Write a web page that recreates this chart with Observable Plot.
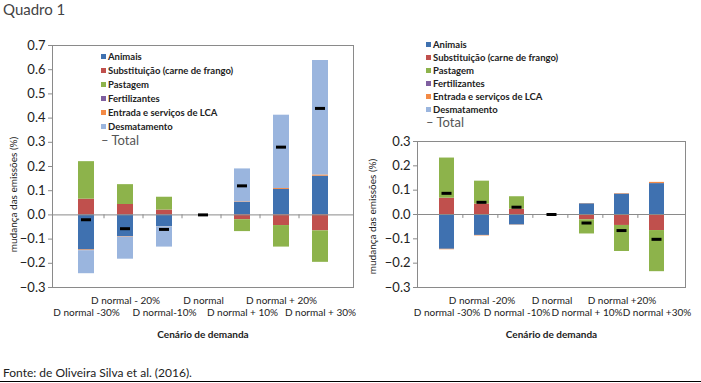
<!DOCTYPE html>
<html>
<head>
<meta charset="utf-8">
<script src="https://cdn.jsdelivr.net/npm/d3@7"></script>
<script src="https://cdn.jsdelivr.net/npm/@observablehq/plot@0.6"></script>
<style>
  html, body { margin: 0; padding: 0; background: #fff; }
  #page { position: relative; width: 701px; height: 383px; overflow: hidden; font-family: Lato, "Open Sans", sans-serif; }
  #title { position: absolute; left: 3px; top: 1px; font-size: 15px; line-height: 16px; color: #444; }
  #footer { position: absolute; left: 3px; top: 366px; font-size: 12px; line-height: 14px; color: #222; }
  #bottomline { position: absolute; left: 0; top: 381px; width: 701px; height: 1px; background: #000; }
  .chart { position: absolute; top: 0; }
  .legend { position: absolute; z-index: 2; }
  .legend .item { position: absolute; left: 0; white-space: nowrap; font-size: 9.5px; line-height: 12px; font-weight: bold; color: #222; }
  .legend .sw { display: inline-block; width: 5px; height: 5px; margin-right: 2px; vertical-align: 1px; }
  .legend .tot { font-weight: normal; font-size: 13px; line-height: 14px; color: #555; }
</style>
</head>
<body>
<div id="page">
  <div id="title">Quadro 1</div>
  <div id="left" class="chart" style="left:0px"></div>
  <div id="right" class="chart" style="left:360px"></div>
  <div id="legL" class="legend" style="left:101px; top:51px"></div>
  <div id="legR" class="legend" style="left:426px; top:39px"></div>
  <div id="footer">Fonte: de Oliveira Silva et al. (2016).</div>
  <div id="bottomline"></div>
</div>
<script>
// ---- data ----
const series = ["Animais", "Substituição (carne de frango)", "Pastagem", "Fertilizantes", "Entrada e serviços de LCA", "Desmatamento"];
const seriesColors = ["#3f71b0", "#c0504d", "#8db34b", "#7f5fa0", "#f38a45", "#9ab5de"];
const totalLabel = "Total";

const catsLeft = ["D normal -30%", "D normal - 20%", "D normal-10%", "D normal", "D normal + 10%", "D normal + 20%", "D normal + 30%"];
const leftAnimais  = [-0.145, -0.090, -0.048, 0, 0.052, 0.105, 0.160];
const leftSubst    = [0.065, 0.043, 0.020, 0, -0.020, -0.044, -0.066];
const leftPast     = [0.155, 0.082, 0.053, 0, -0.049, -0.089, -0.130];
const leftFert     = [0, 0, 0, 0, 0, 0, 0];
const leftEntrada  = [-0.003, -0.002, -0.001, 0, 0.002, 0.004, 0.005];
const leftDesm     = [-0.095, -0.091, -0.084, 0, 0.136, 0.303, 0.473];
const leftTotal    = [-0.020, -0.057, -0.060, 0, 0.120, 0.280, 0.440];

const catsRight = ["D normal -30%", "D normal -20%", "D normal -10%", "D normal", "D normal + 10%", "D normal +20%", "D normal +30%"];
const rightAnimais = [-0.143, -0.086, -0.043, 0, 0.044, 0.084, 0.127];
const rightSubst   = [0.067, 0.043, 0.022, 0, -0.022, -0.045, -0.066];
const rightPast    = [0.165, 0.094, 0.051, 0, -0.058, -0.107, -0.169];
const rightFert    = [0, 0, 0, 0, 0, 0, 0];
const rightEntrada = [-0.002, -0.002, -0.001, 0, 0.001, 0.002, 0.005];
const rightDesm    = [0, 0, 0, 0, 0, 0, 0];
const rightTotal   = [0.087, 0.050, 0.030, 0, -0.035, -0.066, -0.102];

const yTicksLeft = [-0.3, -0.2, -0.1, 0.0, 0.1, 0.2, 0.3, 0.4, 0.5, 0.6, 0.7];
const yTicksRight = [-0.3, -0.2, -0.1, 0.0, 0.1, 0.2, 0.3];
const yLabel = "mudança das emissões (%)";
const xLabel = "Cenário de demanda";

function chart({cats, vals, totals, ticks, width, height, mt, mb, ml, mr, padding, inset, labelDx, labelDy}) {
  const data = cats.flatMap((c, i) => series.map((s, j) => ({cat: c, series: s, value: vals[j][i]})));
  const tot = cats.map((c, i) => ({cat: c, total: totals[i]}));
  const step = (width - ml - mr) / cats.length;
  const lower = cats.filter((c, i) => i % 2 === 0);
  const upper = cats.filter((c, i) => i % 2 === 1);
  const gray = "#8a8a8a";
  return Plot.plot({
    width, height,
    marginTop: mt, marginBottom: mb, marginLeft: ml, marginRight: mr,
    style: {fontFamily: "Lato, 'Open Sans', sans-serif", color: "#222", overflow: "visible", background: "transparent"},
    x: {domain: cats, padding, axis: null},
    y: {domain: [ticks[0], ticks[ticks.length - 1]], axis: null},
    color: {domain: series, range: seriesColors},
    marks: [
      Plot.frame({stroke: gray}),
      Plot.barY(data, {x: "cat", y: "value", fill: "series", order: series}),
      Plot.ruleY([0], {stroke: gray}),
      Plot.ruleX(cats.slice(1), {x: d => d, dx: -step / 2, y1: 0, y2: -0.016, stroke: gray}),
      Plot.tickY(tot, {x: "cat", y: "total", stroke: "#000", strokeWidth: 3, inset}),
      Plot.axisY(ticks, {tickFormat: d3.format(".1f"), tickSize: 4, tickPadding: 3, fontSize: 13, label: null, stroke: gray, fill: "#222"}),
      Plot.axisX(upper, {tickSize: 0, tickPadding: 3, dy: 6, fontSize: 10, label: null, fill: "#222"}),
      Plot.axisX(lower, {tickSize: 0, tickPadding: 3, dy: 18, fontSize: 10, label: null, fill: "#222"}),
      Plot.text([xLabel], {frameAnchor: "bottom", dy: 50, fontSize: 10, fontWeight: "bold", fill: "#222"}),
      Plot.text([yLabel], {frameAnchor: "left", textAnchor: "middle", rotate: -90, dx: labelDx, dy: labelDy, fontSize: 10, fill: "#222"})
    ]
  });
}

document.getElementById("left").appendChild(chart({
  cats: catsLeft,
  vals: [leftAnimais, leftSubst, leftPast, leftFert, leftEntrada, leftDesm],
  totals: leftTotal, ticks: yTicksLeft,
  width: 360, height: 350, mt: 45, mb: 63, ml: 52, mr: 7,
  padding: 0.6, inset: 3, labelDx: -39, labelDy: 28
}));
document.getElementById("right").appendChild(chart({
  cats: catsRight,
  vals: [rightAnimais, rightSubst, rightPast, rightFert, rightEntrada, rightDesm],
  totals: rightTotal, ticks: yTicksRight,
  width: 341, height: 350, mt: 141, mb: 63, ml: 57, mr: 16,
  padding: 0.58, inset: 2.5, labelDx: -45, labelDy: 2
}));

function legend(el, spacing) {
  series.forEach((s, i) => {
    const d = document.createElement("div");
    d.className = "item";
    d.style.top = (i * spacing) + "px";
    const sw = document.createElement("span");
    sw.className = "sw";
    sw.style.background = seriesColors[i];
    d.appendChild(sw);
    d.appendChild(document.createTextNode(s));
    el.appendChild(d);
  });
  const t = document.createElement("div");
  t.className = "item tot";
  t.style.top = (series.length * spacing - 2) + "px";
  t.textContent = "– " + totalLabel;
  el.appendChild(t);
}
legend(document.getElementById("legL"), 14);
legend(document.getElementById("legR"), 13);
</script>
</body>
</html>
